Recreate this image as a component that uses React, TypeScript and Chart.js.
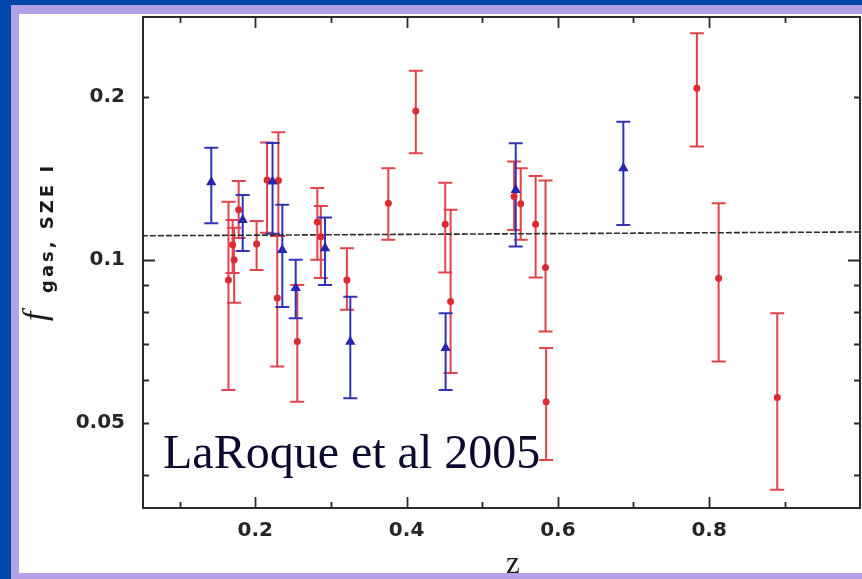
import { useEffect, useRef } from "react";
import { Chart, registerables } from "chart.js";

Chart.register(...registerables);

// Gas mass fractions from SZE data, per cluster redshift
const RED_Z = [0.1645, 0.170, 0.172, 0.178, 0.2017, 0.2155, 0.229, 0.2305, 0.2555, 0.282, 0.2866, 0.3211, 0.3759, 0.4122, 0.4511, 0.4582, 0.5422, 0.5509, 0.5706, 0.5837, 0.5845, 0.7838, 0.8126, 0.8901];
const RED_F = [0.0918, 0.1066, 0.1000, 0.1237, 0.1070, 0.1405, 0.0850, 0.1402, 0.0707, 0.1175, 0.1103, 0.0918, 0.1273, 0.1884, 0.1164, 0.0838, 0.1309, 0.1269, 0.1164, 0.0968, 0.0547, 0.2075, 0.0925, 0.0557];
const RED_LO = [0.0575, 0.0946, 0.0833, 0.1098, 0.0958, 0.1122, 0.0635, 0.1107, 0.0547, 0.1000, 0.0926, 0.0809, 0.1089, 0.1574, 0.0948, 0.0618, 0.1136, 0.1089, 0.0928, 0.0737, 0.0427, 0.1619, 0.0649, 0.0376];
const RED_HI = [0.1280, 0.1185, 0.1146, 0.1399, 0.1180, 0.1647, 0.1107, 0.1721, 0.0899, 0.1358, 0.1258, 0.1051, 0.1477, 0.2236, 0.1389, 0.1237, 0.1519, 0.1477, 0.1429, 0.1401, 0.0687, 0.2623, 0.1273, 0.0797];

const BLUE_Z = [0.1418, 0.1833, 0.2228, 0.2357, 0.2534, 0.2922, 0.3256, 0.4516, 0.5443, 0.6866];
const BLUE_F = [0.1391, 0.1185, 0.1395, 0.1043, 0.0887, 0.1051, 0.0706, 0.0687, 0.1346, 0.1477];
const BLUE_LO = [0.1169, 0.1039, 0.1117, 0.0818, 0.0780, 0.0899, 0.0555, 0.0575, 0.1058, 0.1160];
const BLUE_HI = [0.1612, 0.1318, 0.1644, 0.1264, 0.1000, 0.1197, 0.0855, 0.0797, 0.1643, 0.1800];

// Mean fraction line
const FIT_Z = [0.05, 1.0];
const FIT_F = [0.1108, 0.1126];

const X_MIN = 0.0515;
const X_MAX = 0.9995;
const Y_MIN = 0.0348;
const Y_MAX = 0.281;

const X_TICKS = [0.1, 0.2, 0.3, 0.4, 0.5, 0.6, 0.7, 0.8, 0.9];
const X_LABELS = ["", "0.2", "", "0.4", "", "0.6", "", "0.8", ""];
const X_MAJOR = [0.2, 0.4, 0.6, 0.8];
const Y_TICKS = [0.04, 0.05, 0.06, 0.07, 0.08, 0.09, 0.1, 0.2];
const Y_LABELS = ["", "0.05", "", "", "", "", "0.1", "0.2"];
const Y_MAJOR = [0.1];

const CANVAS_W = 866;
const CANVAS_H = 579;

const RED = "#dc2a33";
const RED_BAR = "#e0434b";
const BLUE = "#2626b0";
const BLUE_BAR = "#3232b8";
const INK = "#262626";

function drawErrorBars(chart: any, zs: number[], lo: number[], hi: number[], color: string) {
  const { ctx, chartArea } = chart;
  const xs = chart.scales.x;
  const ys = chart.scales.y;
  ctx.save();
  ctx.beginPath();
  ctx.rect(chartArea.left, chartArea.top, chartArea.right - chartArea.left, chartArea.bottom - chartArea.top);
  ctx.clip();
  ctx.strokeStyle = color;
  ctx.lineWidth = 2;
  const cap = 7;
  zs.forEach((z, i) => {
    const px = xs.getPixelForValue(z);
    const pTop = ys.getPixelForValue(hi[i]);
    const pBot = ys.getPixelForValue(lo[i]);
    ctx.beginPath();
    ctx.moveTo(px, pTop);
    ctx.lineTo(px, pBot);
    ctx.moveTo(px - cap, pTop);
    ctx.lineTo(px + cap, pTop);
    ctx.moveTo(px - cap, pBot);
    ctx.lineTo(px + cap, pBot);
    ctx.stroke();
  });
  ctx.restore();
}

const decor = {
  id: "decor",
  beforeDraw(chart: any) {
    const { ctx, width, height } = chart;
    ctx.save();
    ctx.fillStyle = "#ffffff";
    ctx.fillRect(0, 0, width, height);
    ctx.restore();
  },
  beforeDatasetsDraw(chart: any) {
    drawErrorBars(chart, RED_Z, RED_LO, RED_HI, RED_BAR);
    drawErrorBars(chart, BLUE_Z, BLUE_LO, BLUE_HI, BLUE_BAR);
  },
  afterDraw(chart: any) {
    const { ctx, chartArea, width, height } = chart;
    const xs = chart.scales.x;
    const ys = chart.scales.y;
    const { left, right, top, bottom } = chartArea;
    ctx.save();

    // axis box
    ctx.strokeStyle = "#2b2b2b";
    ctx.lineWidth = 2;
    ctx.strokeRect(left, top, right - left, bottom - top);

    // inward tick marks on all four sides
    ctx.lineWidth = 1.8;
    ctx.beginPath();
    X_TICKS.forEach((t) => {
      const px = Math.round(xs.getPixelForValue(t)) + 0.5;
      const len = X_MAJOR.includes(t) ? 11 : 6;
      ctx.moveTo(px, bottom);
      ctx.lineTo(px, bottom - len);
      ctx.moveTo(px, top);
      ctx.lineTo(px, top + len);
    });
    Y_TICKS.forEach((t) => {
      const py = Math.round(ys.getPixelForValue(t)) + 0.5;
      const len = Y_MAJOR.includes(t) ? 12 : 6;
      ctx.moveTo(left, py);
      ctx.lineTo(left + len, py);
      ctx.moveTo(right, py);
      ctx.lineTo(right - len, py);
    });
    ctx.stroke();

    // axis titles
    ctx.fillStyle = "#1a1a1a";
    ctx.textBaseline = "alphabetic";
    ctx.textAlign = "left";
    ctx.save();
    ctx.translate(46, 321);
    ctx.rotate(-Math.PI / 2);
    ctx.font = "italic 34px 'Liberation Serif'";
    ctx.fillText("f", 0, 0);
    ctx.restore();
    ctx.save();
    ctx.translate(53, 293);
    ctx.rotate(-Math.PI / 2);
    ctx.font = "bold 18px 'DejaVu Sans'";
    (ctx as any).letterSpacing = "3px";
    ctx.fillText("gas, SZE I", 0, 0);
    ctx.restore();

    ctx.font = "31px 'Liberation Serif'";
    ctx.textAlign = "center";
    ctx.fillText("z", 513, 573);

    // citation
    ctx.textAlign = "left";
    ctx.fillStyle = "#0b0b30";
    ctx.font = "48px 'Liberation Serif'";
    ctx.fillText("LaRoque et al 2005", 163, 468);

    // slide frame
    ctx.fillStyle = "#0047ab";
    ctx.fillRect(0, 0, width, 5);
    ctx.fillRect(0, 0, 11, height);
    ctx.fillStyle = "#b4a0e6";
    ctx.fillRect(11, 5, width - 11, 9);
    ctx.fillRect(11, 5, 8, height - 5);
    ctx.fillRect(11, 573, width - 11, height - 573);
    ctx.restore();
  },
};

export default function App() {
  const canvasRef = useRef<HTMLCanvasElement | null>(null);

  useEffect(() => {
    const canvas = canvasRef.current;
    if (!canvas) return;
    const tickFont = { family: "'DejaVu Sans'", weight: "bold" as const, size: 20 };
    const chart = new Chart(canvas, {
      type: "scatter",
      data: {
        datasets: [
          {
            label: "blue",
            data: BLUE_Z.map((z, i) => ({ x: z, y: BLUE_F[i] })),
            pointStyle: "triangle",
            pointRadius: 6,
            backgroundColor: BLUE,
            borderColor: BLUE,
            borderWidth: 0,
          },
          {
            label: "red",
            data: RED_Z.map((z, i) => ({ x: z, y: RED_F[i] })),
            pointStyle: "circle",
            pointRadius: 3.5,
            backgroundColor: RED,
            borderColor: RED,
            borderWidth: 0,
          },
          {
            type: "line" as any,
            label: "mean",
            data: FIT_Z.map((z, i) => ({ x: z, y: FIT_F[i] })),
            borderColor: "#2e2e2e",
            borderWidth: 1.6,
            borderDash: [6, 2],
            pointRadius: 0,
            fill: false,
          } as any,
        ],
      },
      options: {
        animation: false,
        responsive: false,
        devicePixelRatio: 1,
        layout: { padding: { top: 17, right: 1, left: 0, bottom: 0 } },
        plugins: { legend: { display: false }, tooltip: { enabled: false } },
        events: [],
        scales: {
          x: {
            type: "linear",
            position: "bottom",
            min: X_MIN,
            max: X_MAX,
            border: { display: false },
            grid: { display: false, drawTicks: false },
            afterBuildTicks: (scale: any) => {
              scale.ticks = X_TICKS.map((v) => ({ value: v }));
            },
            afterFit: (scale: any) => {
              scale.height = CANVAS_H - 508;
              scale.paddingLeft = 0;
              scale.paddingRight = 0;
            },
            ticks: {
              autoSkip: false,
              maxRotation: 0,
              minRotation: 0,
              padding: 11,
              color: INK,
              font: tickFont,
              callback: (_v: any, i: number) => X_LABELS[i],
            },
          },
          y: {
            type: "logarithmic",
            position: "left",
            min: Y_MIN,
            max: Y_MAX,
            border: { display: false },
            grid: { display: false, drawTicks: false },
            afterBuildTicks: (scale: any) => {
              scale.ticks = Y_TICKS.map((v) => ({ value: v }));
            },
            afterFit: (scale: any) => {
              scale.width = 143;
              scale.paddingTop = 0;
              scale.paddingBottom = 0;
            },
            ticks: {
              autoSkip: false,
              padding: 18,
              color: INK,
              font: tickFont,
              callback: (_v: any, i: number) => Y_LABELS[i],
            },
          },
        },
      },
      plugins: [decor],
    });
    return () => chart.destroy();
  }, []);

  return (
    <div style={{ position: "fixed", left: 0, top: 0, width: 862, height: 579, overflow: "hidden", background: "#fff" }}>
      <canvas ref={canvasRef} width={CANVAS_W} height={CANVAS_H} style={{ display: "block", width: CANVAS_W, height: CANVAS_H }} />
    </div>
  );
}
